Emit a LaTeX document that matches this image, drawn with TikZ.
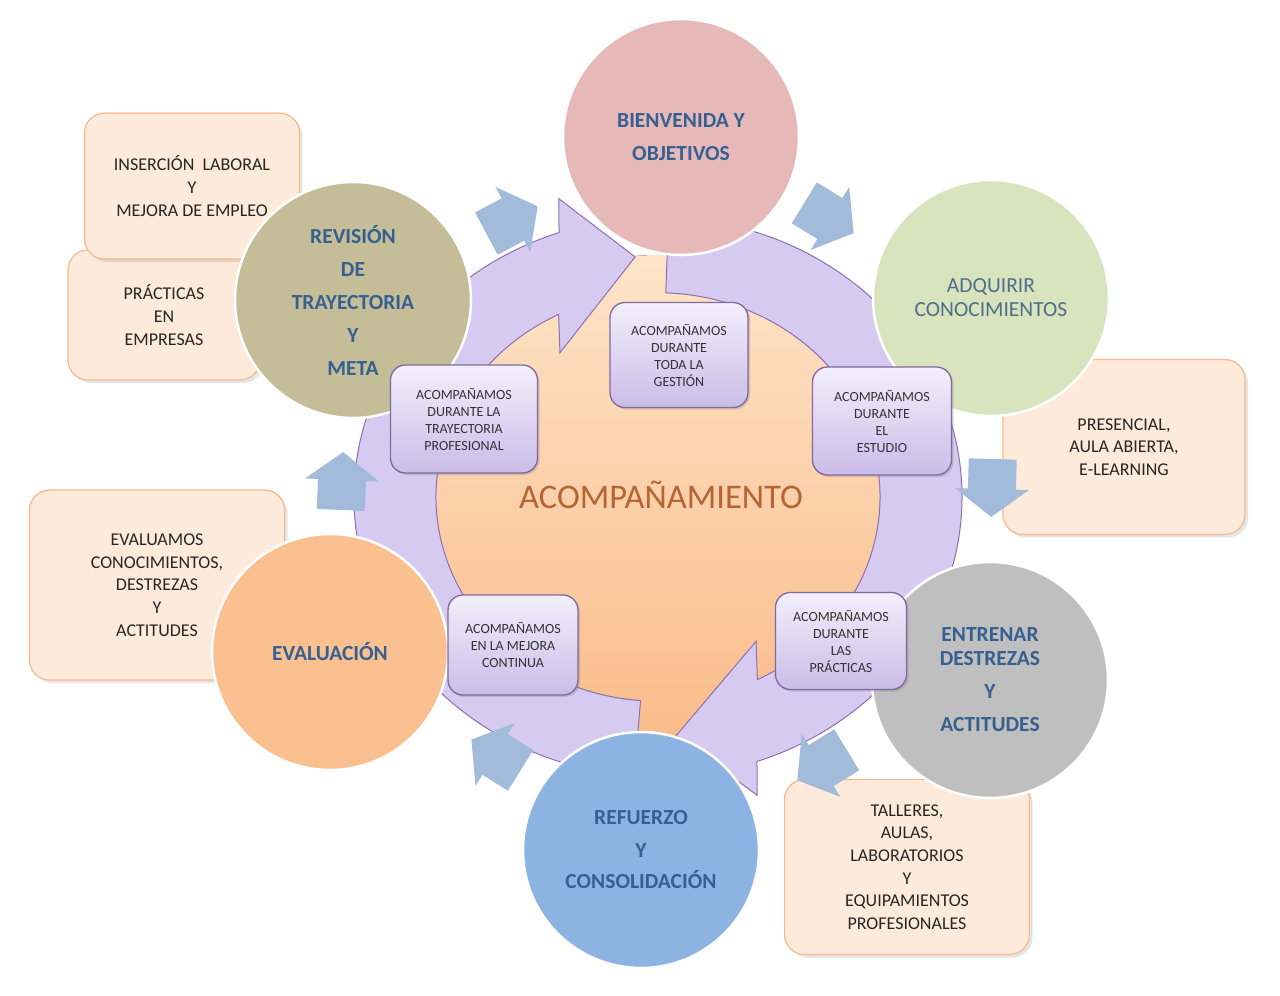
\documentclass[tikz,border=0pt]{standalone}
\usepackage{fontspec}
\setmainfont{Carlito}
\usetikzlibrary{shadows}

\definecolor{ringfill}{RGB}{214,202,240}
\definecolor{ringdraw}{RGB}{140,112,176}
\definecolor{peachtop}{RGB}{253,228,200}
\definecolor{peachbot}{RGB}{250,188,138}
\definecolor{boxfill}{RGB}{253,234,218}
\definecolor{boxdraw}{RGB}{247,186,138}
\definecolor{lavtop}{RGB}{243,239,251}
\definecolor{lavbot}{RGB}{203,188,232}
\definecolor{lavdraw}{RGB}{128,104,160}
\definecolor{stepblue}{RGB}{163,187,218}
\definecolor{titleblue}{RGB}{54,96,146}
\definecolor{softblue}{RGB}{79,110,140}
\definecolor{acombrown}{RGB}{183,101,48}
\definecolor{cpink}{RGB}{230,185,184}
\definecolor{cgreen}{RGB}{215,228,189}
\definecolor{cgray}{RGB}{191,191,191}
\definecolor{cblue}{RGB}{141,179,226}
\definecolor{corange}{RGB}{250,192,144}
\definecolor{colive}{RGB}{196,189,151}

\begin{document}
\begin{tikzpicture}[x=1pt, y=-1pt,
  bubble/.style={circle, draw=white, line width=2.5pt, inner sep=0pt,
    minimum size=236pt, align=center, text=titleblue,
    font=\bfseries\fontsize{21.5}{33}\selectfont},
  infobox/.style={draw=boxdraw, line width=1.2pt, fill=boxfill,
    rounded corners=20pt, align=center, text=black!85,
    font=\fontsize{18}{22.7}\selectfont,
    drop shadow={opacity=0.2, shadow xshift=3pt, shadow yshift=-3pt}},
  acomp/.style={draw=lavdraw, line width=1.3pt, top color=lavtop,
    bottom color=lavbot, rounded corners=15pt, align=center, text=black!80,
    font=\fontsize{14}{17}\selectfont,
    drop shadow={opacity=0.3, shadow xshift=2pt, shadow yshift=-2pt}},
  steparrow/.style={fill=stepblue},
  ringarrow/.style={fill=ringfill, draw=ringdraw, line width=1pt}]
  \useasboundingbox (0,0) rectangle (1280,996);
  \fill[white] (0,0) rectangle (1280,996);

  % info boxes (behind the circles)
  \node[infobox, minimum width=192pt, minimum height=130pt] (practicas) at (164,315) {PRÁCTICAS\\EN\\EMPRESAS};
  \node[infobox, minimum width=215pt, minimum height=146pt] (insercion) at (192,186) {INSERCIÓN\ \ LABORAL\\Y\\MEJORA DE EMPLEO};
  \node[infobox, minimum width=242pt, minimum height=175pt] (presencial) at (1124,447) {PRESENCIAL,\\AULA ABIERTA,\\E-LEARNING};
  \node[infobox, minimum width=255pt, minimum height=190pt] (evaluamos) at (157,585) {EVALUAMOS\\CONOCIMIENTOS,\\DESTREZAS\\Y\\ACTITUDES};
  \node[infobox, minimum width=245pt, minimum height=175pt] (talleres) at (907,867) {TALLERES,\\AULAS,\\LABORATORIOS\\Y\\EQUIPAMIENTOS\\PROFESIONALES};

  % centre disk
  \fill[top color=peachtop, bottom color=peachbot] (658,497) circle[radius=242];

  % circular arrows of the ring
  \begin{scope}[shift={(658,497)}, x=1pt, y=0.92pt]
    \draw[ringarrow] (265.5:304) arc[start angle=265.5, end angle=109, radius=304]
      -- (107:339) -- (95:262) -- (122:185) -- (116.6:222)
      arc[start angle=116.6, end angle=265.5, radius=222] -- cycle;
    \draw[ringarrow] (88:304) arc[start angle=88, end angle=-71, radius=304]
      -- (-73:339) -- (-86:260) -- (-58:185) -- (-63.4:222)
      arc[start angle=-63.4, end angle=88, radius=222] -- cycle;
  \end{scope}

  % stage circles
  \node[bubble, fill=cpink] (bienvenida) at (681,137) {BIENVENIDA Y\\OBJETIVOS};
  \node[bubble, fill=cgreen, text=softblue, font=\fontsize{21.5}{24}\selectfont] (adquirir) at (991,298) {ADQUIRIR\\CONOCIMIENTOS};
  \node[bubble, fill=cgray] (entrenar) at (990,680) {ENTRENAR\\[-9pt]DESTREZAS\\Y\\ACTITUDES};
  \node[bubble, fill=cblue] (refuerzo) at (641,850) {REFUERZO\\Y\\[-2pt]CONSOLIDACIÓN};
  \node[bubble, fill=corange] (evaluacion) at (330,652) {EVALUACIÓN};
  \node[bubble, fill=colive] (revision) at (353,300) {REVISIÓN\\DE\\TRAYECTORIA\\Y\\META};

  % block arrows between the stages
  \foreach \px/\py/\ang in {512/220/28, 829/218/-31.5, 992/488/-91.5, 822/765/-148.5, 496/755/148, 342/481/87.5}
    \fill[steparrow, shift={(\px,\py)}, rotate=\ang]
      (-29,-24) -- (1,-24) -- (1,-37) -- (29,0) -- (1,37) -- (1,24) -- (-29,24) -- cycle;

  % accompaniment boxes on the ring
  \node[acomp, minimum width=138pt, minimum height=105pt] (gestion) at (679,355) {ACOMPAÑAMOS\\DURANTE\\TODA LA\\GESTIÓN};
  \node[acomp, minimum width=139pt, minimum height=108pt] (estudio) at (882,421) {ACOMPAÑAMOS\\DURANTE\\EL\\ESTUDIO};
  \node[acomp, minimum width=131pt, minimum height=97pt] (practicasbox) at (841,641) {ACOMPAÑAMOS\\DURANTE\\LAS\\PRÁCTICAS};
  \node[acomp, minimum width=130pt, minimum height=100pt] (mejora) at (513,645) {ACOMPAÑAMOS\\EN LA MEJORA\\CONTINUA};
  \node[acomp, minimum width=147pt, minimum height=108pt] (trayectoria) at (464,419) {ACOMPAÑAMOS\\DURANTE LA\\TRAYECTORIA\\PROFESIONAL};

  \node[text=acombrown, font=\fontsize{34.5}{40}\selectfont] (centro) at (661,495) {ACOMPAÑAMIENTO};
\end{tikzpicture}
\end{document}
